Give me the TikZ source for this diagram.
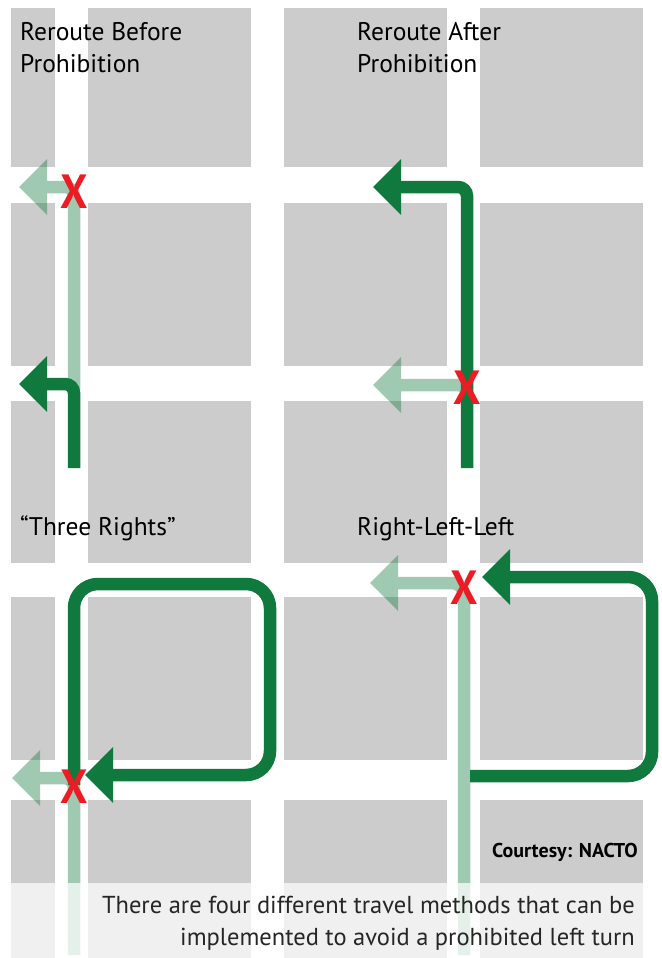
\documentclass[tikz,border=0pt]{standalone}
\usepackage{fontspec}
\setmainfont{PT Sans}
\usetikzlibrary{arrows.meta}
\definecolor{routeGreen}{HTML}{10793D}
\definecolor{blockGrey}{HTML}{CCCCCC}
\definecolor{banRed}{HTML}{ED1C24}

\begin{document}
\begin{tikzpicture}[x=1pt, y=-1pt,
  block/.style={fill=blockGrey},
  route/.style={line width=12.5pt, routeGreen, line cap=butt,
                -{Triangle[length=28pt, width=54pt]}},
  banmark/.style={text=banRed, inner sep=0pt,
                  font=\fontsize{48}{48}\selectfont\bfseries},
  heading/.style={anchor=base west, align=left, inner sep=0pt,
                  font=\fontsize{25.5}{32}\selectfont},
]
  \useasboundingbox (0,0) rectangle (661,958);

  % city blocks
  \foreach \xa/\xb in {11/55, 88/251, 284/447, 480/643}
    \foreach \ya/\yb in {8/167, 203/366, 401/563, 597/760, 800/958}
      \fill[block] (\xa,\ya) rectangle (\xb,\yb);

  % route points
  \coordinate (bfStart) at (74,468);
  \coordinate (bfTurn)  at (74,384);
  \coordinate (bfBan)   at (74,187);
  \coordinate (afStart) at (467,468);
  \coordinate (afBan)   at (467,385);
  \coordinate (afTurn)  at (467,187);
  \coordinate (trStart) at (74,955);
  \coordinate (trBan)   at (74,778);
  \coordinate (rlStart) at (464,955);
  \coordinate (rlBan)   at (464,583);

  % the forbidden turns (faded)
  \begin{scope}[transparency group, opacity=.4]
    \draw[route, rounded corners=9pt] ([yshift=-6pt]bfTurn) -- (bfBan) -- (19,187);
    \draw[route, rounded corners=9pt] ([yshift=-15pt]afBan) -- (afBan) -- (373,385);
    \draw[route, rounded corners=10pt] (trStart) -- (trBan) -- (12,778);
    \draw[route, rounded corners=12pt] (rlStart) -- (rlBan) -- (370,583);
  \end{scope}

  % the reroutes
  \draw[route, rounded corners=9pt] (bfStart) -- (bfTurn) -- (19,384);
  \draw[route, rounded corners=9pt] (afStart) -- (afTurn) -- (373,187);
  \draw[route, rounded corners=24pt] (74,785) -- (74,584) -- (270,584)
    -- (270,775) -- (85,775);
  \draw[route, rounded corners=24pt] (470,776) -- (652,776) -- (652,577)
    -- (482,577);

  % no left turn (canvas y points up)
  \node[banmark] (banA) at ([yshift=-5pt]bfBan) {\scalebox{.9}[1]{X}};
  \node[banmark] (banB) at ([yshift=-3pt]afBan) {\scalebox{.9}[1]{X}};
  \node[banmark] (banC) at ([yshift=-9pt]trBan) {\scalebox{.9}[1]{X}};
  \node[banmark] (banD) at ([yshift=-5pt]rlBan) {\scalebox{.9}[1]{X}};

  % panel titles (base = last line)
  \node[heading] (tBefore) at (20,72.7) {Reroute Before\\Prohibition};
  \node[heading] (tAfter)  at (357,72.7) {Reroute After\\Prohibition};
  \node[heading] (tThree)  at (20,535) {``Three Rights''};
  \node[heading] (tRLL)    at (357,535) {Right-Left-Left};

  \node[anchor=base east, inner sep=0pt, font=\fontsize{20}{22}\selectfont\bfseries]
    (credit) at (638,857) {Courtesy: NACTO};

  % caption band
  \fill[white, opacity=.72] (0,883) rectangle (661,958);
  \node[anchor=base east, align=right, inner sep=0pt, text=black!85,
        font=\fontsize{24.5}{32}\selectfont] (caption) at (635,945)
    {There are four different travel methods that can be\\
     implemented to avoid a prohibited left turn};
\end{tikzpicture}
\end{document}
